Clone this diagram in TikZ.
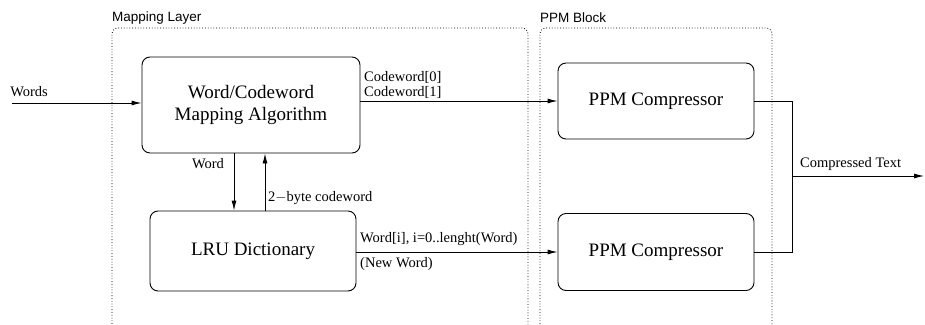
\documentclass[tikz,border=0pt]{standalone}
\usepackage{fontspec}
\setmainfont{Liberation Serif}
\newfontfamily\lblsans{Liberation Sans}
\usetikzlibrary{arrows.meta}
\tikzset{
  blk/.style={draw, line width=0.9pt, rounded corners=8pt, align=center, font=\fontsize{19}{22}\selectfont, inner sep=0pt},
  lbl/.style={inner sep=0pt, font=\fontsize{14.5}{16}\selectfont},
  grp/.style={inner sep=0pt, font=\lblsans\fontsize{13.5}{16}\selectfont},
  conn/.style={draw, line width=0.9pt},
  arr/.style={conn, -{Latex[length=10pt,width=5pt]}},
  cont/.style={draw, line width=0.8pt, dotted, rounded corners=6pt}
}
\begin{document}
\begin{tikzpicture}[x=1pt,y=-1pt]
\useasboundingbox (0,0) rectangle (925,324);
% containers
\draw[cont] (112,324) -- (112,28) -- (528,28) -- (528,324);
\draw[cont] (540,324) -- (540,28) -- (772,28) -- (772,324);
\node[grp, anchor=west] (ml) at (112,18) {Mapping Layer};
\node[grp, anchor=west] (pb) at (540,18) {PPM Block};
% blocks
\node[blk, minimum width=218pt, minimum height=96pt] (map) at (251,105) {Word/Codeword\\Mapping Algorithm};
\node[blk, minimum width=206pt, minimum height=80pt] (lru) at (253,251) {LRU Dictionary};
\node[blk, minimum width=196pt, minimum height=76pt] (ppmA) at (656,101) {PPM Compressor};
\node[blk, minimum width=196pt, minimum height=77pt] (ppmB) at (656,252) {PPM Compressor};
% coordinates
\coordinate (in) at (12,103);
\coordinate (wx) at (234,0);
\coordinate (cx) at (265,0);
\coordinate (j) at (792,176);
\coordinate (out) at (924,176);
% connectors
\draw[arr] (in) -- (in -| map.west);
\draw[arr] (ppmA.west -| map.east) -- (ppmA.west);
\draw[arr] (map.south -| wx) -- (lru.north -| wx);
\draw[arr] (lru.north -| cx) -- (map.south -| cx);
\draw[arr] (ppmB.west -| lru.east) -- (ppmB.west);
\draw[conn] (ppmA.east) -| (j |- ppmB.east) -- (ppmB.east);
\draw[arr] (j) -- (out);
% labels
\node[lbl] (lwords) at (29,92) {Words};
\node[lbl, anchor=west] (lc0) at (364,77) {Codeword[0]};
\node[lbl, anchor=west] (lc1) at (364,92) {Codeword[1]};
\node[lbl] (lword) at (208,164) {Word};
\node[lbl, anchor=west] (l2b) at (268,198) {2$-$byte codeword};
\node[lbl, anchor=west] (lwi) at (360,239) {Word[i], i=0..lenght(Word)};
\node[lbl, anchor=west] (lnw) at (360,264) {(New Word)};
\node[lbl, anchor=west] (lct) at (800,164) {Compressed Text};
\end{tikzpicture}
\end{document}
